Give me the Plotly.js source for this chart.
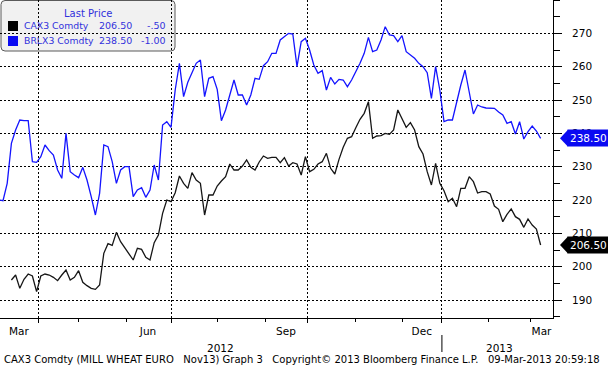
<!DOCTYPE html>
<html>
<head>
<meta charset="utf-8">
<script src="https://cdn.plot.ly/plotly-3.0.1.min.js"></script>
<style>
html,body{margin:0;padding:0;background:#ffffff;}
#chart{width:608px;height:369px;}
</style>
</head>
<body>
<div id="chart"></div>
<script>
// ---------- data ----------
const seriesNames = ['CAX3 Comdty', 'BRLX3 Comdty'];
const seriesChanges = ['-.50', '-1.00'];
const legendTitle = 'Last Price';
const firstTradingDay = '2012-03-01';
const lastTradingDay = '2013-03-08';
const exchangeHolidays = ['2012-04-06', '2012-04-09', '2012-12-25', '2012-12-26', '2013-01-01'];
const sampleStep = 2; // one reading every second trading day, last one on lastTradingDay

// CAX3 Comdty (mill wheat Euronext Nov13), EUR/t
const caxValues = [
  196.0, 197.5, 193.5, 196.2, 197.8, 197.2, 192.5, 197.2, 197.8, 197.5,
  196.8, 195.8, 197.5, 199.0, 196.0, 196.8, 198.8, 195.3, 194.3, 193.5,
  193.2, 194.5, 204.0, 206.9, 206.4, 210.3, 207.5, 205.6, 203.7, 202.0,
  205.5, 205.2, 202.8, 202.0, 207.2, 209.5, 216.0, 220.0, 219.5, 222.2,
  227.2, 225.0, 223.5, 228.2, 226.0, 225.0, 215.5, 221.5, 221.5, 224.2,
  225.7, 227.0, 230.8, 229.0, 229.0, 230.2, 232.0, 229.8, 229.0, 231.4,
  233.2, 232.5, 232.8, 232.8, 231.2, 232.7, 230.2, 231.2, 230.8, 227.5,
  233.0, 228.5, 229.2, 230.8, 231.5, 234.0, 229.5, 227.8, 232.2, 235.8,
  238.5, 239.0, 241.7, 244.2, 246.0, 249.5, 238.5, 239.2, 239.3, 240.0,
  239.7, 241.0, 247.0, 244.3, 241.8, 243.2, 241.0, 236.0, 233.8, 228.5,
  224.5, 231.0, 225.0, 222.8, 219.5, 220.5, 218.0, 223.5, 223.5, 227.0,
  225.5, 222.1, 222.5, 222.5, 221.8, 218.2, 217.2, 213.5, 215.7, 217.3,
  215.0, 214.2, 211.8, 214.3, 212.5, 211.3, 206.5
];
// BRLX3 Comdty (Nov13), EUR/t
const brlValues = [
  220.0, 219.8, 225.0, 237.0, 241.0, 244.0, 243.8, 243.8, 231.5, 231.3,
  233.0, 236.5, 234.8, 233.5, 229.0, 226.5, 240.0, 228.5, 227.5, 226.7,
  229.8, 226.0, 221.0, 215.5, 222.0, 236.5, 236.0, 231.5, 225.0, 229.0,
  230.0, 230.0, 221.0, 223.0, 223.7, 220.8, 223.0, 230.5, 226.0, 242.5,
  243.5, 241.8, 253.0, 261.0, 251.0, 255.3, 258.2, 261.0, 262.0, 251.0,
  256.5, 257.0, 253.2, 243.8, 247.0, 251.5, 256.0, 251.5, 251.5, 248.5,
  251.5, 256.5, 256.2, 260.3, 261.5, 264.0, 264.0, 268.0, 269.0, 270.0,
  269.8, 260.0, 267.5, 268.5, 265.0, 260.5, 258.0, 258.8, 253.0, 256.8,
  254.8, 256.2, 256.0, 254.0, 256.0, 258.5, 261.0, 264.0, 268.8, 264.5,
  265.0, 268.0, 272.0, 269.5, 269.3, 267.5, 269.3, 264.5, 263.5, 262.5,
  261.0, 260.0, 258.2, 250.5, 260.0, 253.0, 243.5, 244.0, 244.0, 249.5,
  254.5, 259.0, 252.5, 245.8, 248.5, 247.9, 247.6, 247.5, 247.5, 246.4,
  245.5, 243.0, 243.5, 239.8, 243.5, 238.3, 240.5, 242.2, 240.7, 238.5
];

const yTickVals = [190, 200, 210, 220, 230, 240, 250, 260, 270];
const monthLabelDates = ['2012-03-19 14:00', '2012-06-15 01:00', '2012-09-14 18:00', '2012-12-14 10:00', '2013-03-08 10:00'];
const monthLabels = ['Mar', 'Jun', 'Sep', 'Dec', 'Mar'];
const quarterStarts = ['2012-04-02', '2012-07-02', '2012-10-01', '2013-01-02'];
const monthStarts = ['2012-05-01', '2012-06-01', '2012-08-01', '2012-09-03', '2012-11-01', '2012-12-03', '2013-02-01', '2013-03-01'];
const yearLabels = ['2012', '2013'];
const footerText = 'CAX3 Comdty (MILL WHEAT EURO\u00a0\u00a0 Nov13) Graph 3\u00a0\u00a0 Copyright\u00a9 2013 Bloomberg Finance L.P.\u00a0\u00a0 09-Mar-2013 20:59:18';

// ---------- helpers ----------
function tradingDays(a, b, off) {
  const out = [];
  const d = new Date(a + 'T00:00:00Z');
  const end = new Date(b + 'T00:00:00Z');
  while (d <= end) {
    const wd = d.getUTCDay();
    const s = d.toISOString().slice(0, 10);
    if (wd !== 0 && wd !== 6 && off.indexOf(s) < 0) out.push(s);
    d.setUTCDate(d.getUTCDate() + 1);
  }
  return out;
}
const days = tradingDays(firstTradingDay, lastTradingDay, exchangeHolidays);
function datesFor(vals) {
  const n = vals.length, last = days.length - 1;
  return vals.map((v, i) => days[last - (n - 1 - i) * sampleStep]);
}

const colors = ['#161616', '#1414ff'];
const calloutBg = ['#000000', '#0a0af2'];
const legendText = '#3131dc';
const font = 'DejaVu Sans';
const xRange = ['2012-03-06 13:42', '2013-03-15 21:36'];
const breaks = [{bounds: ['sat', 'mon']}, {values: exchangeHolidays}];
const W = 553, H = 318;
const px = v => v / W, py = v => 1 - v / H;

const traces = [
  {type: 'scatter', mode: 'lines', x: datesFor(brlValues), y: brlValues, name: seriesNames[1],
   line: {color: colors[1], width: 1.3}, hoverinfo: 'skip'},
  {type: 'scatter', mode: 'lines', x: datesFor(caxValues), y: caxValues, name: seriesNames[0],
   line: {color: colors[0], width: 1.3}, hoverinfo: 'skip'},
  // empty trace so that the grid/tick overlay axis gets drawn
  {type: 'scatter', mode: 'lines', x: [], y: [], xaxis: 'x3', yaxis: 'y', hoverinfo: 'skip'},
  // arrow heads of the right-hand ticks
  {type: 'scatter', mode: 'markers', x: yTickVals.map(() => 1 + 9.5 / W), y: yTickVals, xaxis: 'x2', yaxis: 'y',
   marker: {symbol: 'triangle-right', size: 6, color: '#000'}, cliponaxis: false, hoverinfo: 'skip'}
];

const lastVals = [caxValues[caxValues.length - 1], brlValues[brlValues.length - 1]];

const shapes = [];
const annotations = [];

// legend box
(function () {
  const x0 = px(1), x1 = px(175), y1 = py(0.5), y0 = py(51);
  const rx = 4 / W, ry = 4 / H;
  const p = `M ${x0 + rx},${y1} L ${x1 - rx},${y1} Q ${x1},${y1} ${x1},${y1 - ry} L ${x1},${y0 + ry} Q ${x1},${y0} ${x1 - rx},${y0} L ${x0 + rx},${y0} Q ${x0},${y0} ${x0},${y0 + ry} L ${x0},${y1 - ry} Q ${x0},${y1} ${x0 + rx},${y1} Z`;
  shapes.push({type: 'path', xref: 'paper', yref: 'paper', path: p, layer: 'below',
    fillcolor: '#f1f1f1', line: {color: '#5a5a5a', width: 1}});
})();
annotations.push({xref: 'paper', yref: 'paper', x: px(88), y: py(14), text: legendTitle, showarrow: false,
  xanchor: 'center', yanchor: 'middle', font: {family: font, size: 10, color: legendText}});
const rowY = [26, 41];
for (let i = 0; i < 2; i++) {
  shapes.push({type: 'rect', xref: 'paper', yref: 'paper', x0: px(8), x1: px(18), y0: py(rowY[i] - 5), y1: py(rowY[i] + 5),
    fillcolor: calloutBg[i], line: {width: 0}});
  annotations.push({xref: 'paper', yref: 'paper', x: px(22), y: py(rowY[i]), text: seriesNames[i], showarrow: false,
    xanchor: 'left', yanchor: 'middle', font: {family: font, size: 9.3, color: legendText}});
  annotations.push({xref: 'paper', yref: 'paper', x: px(134), y: py(rowY[i]), text: lastVals[i].toFixed(2), showarrow: false,
    xanchor: 'right', yanchor: 'middle', font: {family: font, size: 9.5, color: legendText}});
  annotations.push({xref: 'paper', yref: 'paper', x: px(168), y: py(rowY[i]), text: seriesChanges[i], showarrow: false,
    xanchor: 'right', yanchor: 'middle', font: {family: font, size: 9.5, color: legendText}});
  // last-value callouts on the right axis
  annotations.push({xref: 'paper', yref: 'y', x: 1, y: lastVals[i], xshift: 14, text: lastVals[i].toFixed(2), showarrow: false,
    xanchor: 'left', yanchor: 'middle', bgcolor: calloutBg[i], borderpad: 2,
    font: {family: font, size: 10.5, color: '#ffffff'}});
  shapes.push({type: 'path', xref: 'paper', yref: 'y', xsizemode: 'pixel', ysizemode: 'pixel', xanchor: 1, yanchor: lastVals[i],
    path: 'M 7 0 L 15 8.5 L 15 -8.5 Z', fillcolor: calloutBg[i], line: {width: 0}, layer: 'above'});
}
// year row
annotations.push({xref: 'paper', yref: 'paper', x: px(220), y: py(348), text: yearLabels[0], showarrow: false,
  xanchor: 'center', yanchor: 'middle', font: {family: font, size: 10.5, color: '#000'}});
annotations.push({xref: 'paper', yref: 'paper', x: px(499), y: py(348), text: yearLabels[1], showarrow: false,
  xanchor: 'center', yanchor: 'middle', font: {family: font, size: 10.5, color: '#000'}});
shapes.push({type: 'line', xref: 'x', yref: 'paper', x0: quarterStarts[3], x1: quarterStarts[3], y0: py(335), y1: py(352),
  line: {color: '#000', width: 1}});
// footer
annotations.push({xref: 'paper', yref: 'paper', x: px(2), y: py(359), text: footerText, showarrow: false,
  xanchor: 'left', yanchor: 'middle', font: {family: font, size: 10, color: '#000'}});

const grid = {gridcolor: '#000000', griddash: '2px,2px', gridwidth: 1};

const layout = {
  width: 608, height: 369,
  margin: {l: 0, r: 55, t: 0, b: 51, pad: 0},
  paper_bgcolor: '#ffffff', plot_bgcolor: 'rgba(0,0,0,0)',
  showlegend: false, hovermode: false,
  font: {family: font, size: 10.5, color: '#000'},
  xaxis: {type: 'date', range: xRange, rangebreaks: breaks, tickmode: 'array', tickvals: monthLabelDates, ticktext: monthLabels,
    ticks: '', showgrid: false, zeroline: false, showline: true, linecolor: '#000', linewidth: 1,
    ticklabelstandoff: 3, tickfont: {family: font, size: 10.5, color: '#000'}},
  xaxis2: {overlaying: 'x', range: [0, 1], visible: false, anchor: 'y'},
  xaxis3: Object.assign({type: 'date', overlaying: 'x', anchor: 'y', side: 'bottom', range: xRange, rangebreaks: breaks,
    tickmode: 'array', tickvals: quarterStarts, showticklabels: false, ticks: 'outside', ticklen: 4, tickcolor: '#000',
    showgrid: true, zeroline: false, showline: false,
    minor: {tickmode: 'array', tickvals: monthStarts, ticks: 'outside', ticklen: 3, tickcolor: '#000', showgrid: false}}, grid),
  yaxis: Object.assign({side: 'right', range: [184.6, 280], tickmode: 'array', tickvals: yTickVals,
    ticks: 'outside', ticklen: 8, tickcolor: '#000', showline: true, linecolor: '#000', linewidth: 1,
    showgrid: true, zeroline: false, ticklabelstandoff: 8,
    tickfont: {family: font, size: 10.5, color: '#000'},
    minor: {tickmode: 'linear', tick0: 185, dtick: 5, ticks: 'outside', ticklen: 6, tickcolor: '#000', showgrid: false}}, grid),
  shapes: shapes,
  annotations: annotations
};

Plotly.newPlot('chart', traces, layout, {staticPlot: true, displayModeBar: false});
</script>
</body>
</html>
